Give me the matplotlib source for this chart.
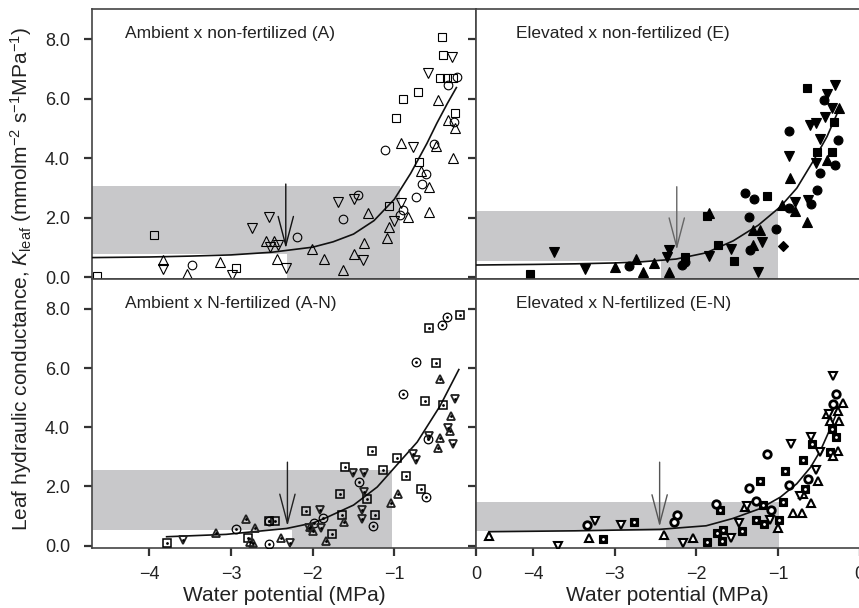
import matplotlib.pyplot as plt

plt.rcParams['font.family'] = ['Liberation Sans', 'DejaVu Sans']
plt.rcParams['mathtext.fontset'] = 'custom'
plt.rcParams['mathtext.rm'] = 'Liberation Sans'
plt.rcParams['mathtext.it'] = 'Liberation Sans:italic'

# water potential (MPa), Kleaf (mmol m-2 s-1 MPa-1) per treatment and leaf
a_squares = [(-0.42, 8.07), (-0.41, 7.46), (-0.44, 6.68), (-0.35, 6.68),
             (-0.28, 6.68), (-0.71, 6.23), (-0.89, 6.00), (-0.98, 5.34),
             (-0.26, 5.52), (-0.70, 3.88), (-1.06, 2.40), (-3.94, 1.42),
             (-2.94, 0.30), (-4.64, 0.05)]
a_circles = [(-0.23, 6.71), (-0.34, 6.45), (-0.27, 5.22), (-0.52, 4.47),
             (-1.11, 4.27), (-0.61, 3.47), (-0.66, 3.13), (-0.73, 2.70),
             (-1.45, 2.76), (-1.63, 1.95), (-0.89, 2.26), (-0.93, 2.09),
             (-2.19, 1.36), (-3.48, 0.41)]
a_up = [(-0.46, 5.95), (-0.34, 5.28), (-0.26, 5.02), (-0.92, 4.50),
        (-0.49, 4.41), (-0.28, 3.99), (-0.67, 3.58), (-0.57, 3.04),
        (-0.57, 2.20), (-0.83, 2.03), (-1.32, 2.15), (-1.07, 1.70),
        (-1.09, 1.31), (-1.37, 1.14), (-1.50, 0.78), (-2.01, 0.94),
        (-1.86, 0.62), (-1.63, 0.24), (-2.44, 0.61), (-2.57, 1.23),
        (-2.48, 1.23), (-3.14, 0.52), (-3.84, 0.58), (-3.54, 0.10)]
a_down = [(-0.29, 7.40), (-0.59, 6.85), (-0.77, 4.38), (-0.92, 2.50),
          (-1.00, 1.90), (-1.38, 0.58), (-1.49, 2.62), (-1.69, 2.54),
          (-2.54, 2.03), (-2.74, 1.64), (-2.52, 1.03), (-2.42, 1.08),
          (-2.33, 0.30), (-2.99, 0.08), (-3.84, 0.27)]

e_squares = [(-0.65, 6.37), (-0.52, 4.22), (-0.34, 4.22), (-0.31, 5.22),
             (-1.14, 2.74), (-1.87, 2.07), (-1.74, 1.08), (-1.54, 0.56),
             (-2.14, 0.69), (-4.04, 0.10)]
e_circles = [(-0.44, 5.95), (-0.86, 4.92), (-0.48, 3.49), (-0.30, 3.77),
             (-0.26, 4.61), (-0.52, 2.93), (-0.59, 2.46), (-0.87, 2.32),
             (-1.40, 2.84), (-1.29, 2.63), (-1.35, 2.01), (-1.02, 1.61),
             (-1.34, 0.92), (-2.18, 0.41), (-2.14, 0.52), (-2.83, 0.39)]
e_up = [(-0.25, 5.70), (-0.85, 3.32), (-0.79, 2.24), (-0.95, 2.43),
        (-0.64, 1.87), (-0.40, 3.94), (-1.85, 2.15), (-1.22, 1.59),
        (-1.30, 1.59), (-1.30, 1.08), (-2.33, 0.19), (-2.52, 0.47),
        (-2.65, 0.19), (-2.74, 0.60), (-3.00, 0.36)]
e_down = [(-0.30, 6.45), (-0.40, 6.17), (-0.42, 5.39), (-0.54, 5.17),
          (-0.61, 5.11), (-0.34, 5.67), (-0.49, 4.66), (-0.54, 3.83),
          (-0.86, 4.07), (-0.79, 2.54), (-0.63, 2.59), (-1.20, 1.19),
          (-1.57, 0.94), (-1.25, 0.19), (-1.84, 0.71), (-2.34, 0.92),
          (-2.36, 0.69), (-3.37, 0.27), (-3.74, 0.84)]
e_diamonds = [(-0.94, 1.05)]

an_squares = [(-0.20, 7.80), (-0.58, 7.35), (-0.49, 6.17), (-0.62, 4.89),
              (-0.41, 4.74), (-1.27, 3.21), (-0.97, 2.95), (-0.86, 2.34),
              (-0.67, 1.90), (-1.61, 2.65), (-1.14, 2.57), (-1.67, 1.76),
              (-1.33, 1.59), (-1.24, 1.03), (-1.64, 1.03), (-1.76, 0.38),
              (-2.08, 1.16), (-2.53, 0.84), (-2.46, 0.84), (-2.79, 0.25),
              (-3.79, 0.10)]
an_circles = [(-0.35, 7.74), (-0.42, 7.44), (-0.73, 6.21), (-0.89, 5.11),
              (-0.59, 3.60), (-0.61, 1.64), (-1.43, 2.15), (-1.26, 0.67),
              (-1.99, 0.77), (-1.87, 0.92), (-2.94, 0.56), (-2.54, 0.05),
              (-2.54, 0.84)]
an_up = [(-0.44, 5.62), (-0.31, 4.39), (-0.32, 3.88), (-0.44, 3.64),
         (-0.46, 3.29), (-0.95, 1.76), (-1.04, 1.44), (-1.62, 0.81),
         (-1.84, 0.17), (-2.03, 0.64), (-2.00, 0.50), (-2.39, 0.25),
         (-2.82, 0.89), (-2.71, 0.60), (-3.18, 0.42), (-2.73, 0.08),
         (-2.77, 0.13)]
an_down = [(-0.26, 4.95), (-0.34, 3.99), (-0.28, 3.44), (-0.57, 3.71),
           (-0.77, 3.10), (-0.73, 2.88), (-1.51, 2.45), (-1.37, 2.45),
           (-1.37, 1.81), (-1.40, 1.20), (-1.40, 0.89), (-1.91, 1.22),
           (-1.90, 0.58), (-2.28, 0.08), (-3.59, 0.19), (-2.04, 0.58)]

en_squares = [(-0.34, 3.94), (-0.29, 3.66), (-0.36, 3.18), (-0.58, 3.44),
              (-0.69, 2.90), (-0.92, 2.52), (-0.67, 1.93), (-0.94, 1.48),
              (-1.22, 2.20), (-1.18, 1.37), (-1.27, 0.86), (-1.17, 0.73),
              (-1.44, 0.50), (-0.99, 0.86), (-1.71, 1.20), (-1.67, 0.53),
              (-1.75, 0.42), (-1.69, 0.16), (-1.87, 0.13), (-2.77, 0.81),
              (-3.14, 0.22)]
en_circles = [(-0.29, 5.13), (-0.33, 4.80), (-1.14, 3.10), (-0.86, 2.06),
              (-0.63, 2.26), (-1.35, 1.95), (-1.27, 1.50), (-1.08, 1.20),
              (-1.76, 1.39), (-2.24, 1.05), (-2.27, 0.81), (-3.34, 0.69)]
en_up = [(-0.20, 4.83), (-0.26, 4.55), (-0.36, 4.22), (-0.25, 4.22),
         (-0.40, 4.46), (-0.26, 3.19), (-0.32, 3.04), (-0.51, 2.20),
         (-0.59, 1.44), (-0.71, 1.09), (-1.00, 0.58), (-1.40, 1.31),
         (-2.04, 0.25), (-2.40, 0.36), (-3.31, 0.25), (-4.54, 0.33),
         (-0.69, 1.76), (-0.81, 1.09)]
en_down = [(-0.32, 5.73), (-0.38, 4.44), (-0.60, 3.66), (-0.84, 3.44),
           (-0.49, 3.15), (-0.54, 2.54), (-0.73, 1.67), (-1.38, 1.33),
           (-1.48, 0.77), (-1.57, 0.27), (-2.16, 0.08), (-3.24, 0.84),
           (-3.70, 0.00), (-2.92, 0.69), (-1.10, 0.86)]

# fitted response curves
a_curve_psi = [-4.70, -4.0, -3.5, -3.0, -2.5, -2.0, -1.75, -1.5, -1.25,
               -1.0, -0.8, -0.6, -0.48, -0.35, -0.24]
a_curve_k = [0.66, 0.68, 0.71, 0.75, 0.84, 1.01, 1.19, 1.45, 1.90,
             2.62, 3.49, 4.50, 5.17, 5.84, 6.37]
e_curve_psi = [-4.70, -4.0, -3.48, -3.0, -2.66, -2.25, -1.88, -1.55,
               -1.24, -0.97, -0.77, -0.56, -0.40, -0.24]
e_curve_k = [0.41, 0.43, 0.45, 0.48, 0.52, 0.61, 0.82, 1.22,
             1.75, 2.37, 2.99, 3.94, 4.72, 5.72]
an_curve_psi = [-3.79, -3.06, -2.32, -1.99, -1.83, -1.50, -1.21, -1.01,
                -0.72, -0.44, -0.21]
an_curve_k = [0.30, 0.38, 0.58, 0.77, 0.95, 1.37, 1.98, 2.60,
              3.50, 4.72, 5.95]
en_curve_psi = [-4.54, -3.48, -2.45, -1.88, -1.55, -1.22, -0.97, -0.77,
                -0.60, -0.48, -0.38, -0.27]
en_curve_k = [0.47, 0.50, 0.55, 0.67, 0.92, 1.25, 1.64, 2.09,
              2.65, 3.21, 3.83, 4.55]

# shaded ranges: psi (left, split, right) and K (low, high)
shade_psi = [(-4.7, -2.32, -0.93), (-4.7, -2.43, -1.00),
             (-4.7, -2.26, -1.03), (-4.7, -2.37, -0.99)]
shade_k = [(0.78, 3.05), (0.53, 2.23), (0.52, 2.56), (0.48, 1.48)]

# arrows: psi, K at tail, K at tip
arrow_psi = [-2.33, -2.24, -2.31, -2.45]
arrow_tail = [3.13, 3.04, 2.82, 2.82]
arrow_tip = [0.97, 0.92, 0.66, 0.64]

titles = ["Ambient x non-fertilized (A)", "Elevated x non-fertilized (E)",
          "Ambient x N-fertilized (A-N)", "Elevated x N-fertilized (E-N)"]
x_ticks = [-4, -3, -2, -1, 0]
x_tick_labels = ["\u22124", "\u22123", "\u22122", "\u22121", "0"]
y_ticks = [0, 2, 4, 6, 8]
y_tick_labels = ["0.0", "2.0", "4.0", "6.0", "8.0"]

GRAY = "#c8c8ca"
INK = "#222222"
Y_MIN, Y_MAX = -0.07, 9.0


def draw_points(ax, points, marker, size, face, edge, width,
                dot=None, dot_size=2.0):
    """Plot one marker series, optionally with a small centre dot."""
    psi = [p[0] for p in points]
    k = [p[1] for p in points]
    ax.plot(psi, k, linestyle="none", marker=marker, ms=size, mfc=face,
            mec=edge, mew=width, zorder=4)
    if dot:
        ax.plot(psi, k, linestyle="none", marker="o", ms=dot_size,
                mfc=dot, mec="none", zorder=5)


def setup_axes(ax, idx):
    ax.set_xlim(-4.7, 0)
    ax.set_ylim(Y_MIN, Y_MAX)
    ax.set_xticks(x_ticks)
    ax.set_yticks(y_ticks)
    if idx >= 2:
        ax.set_xticklabels(x_tick_labels)
        ax.set_xlabel("Water potential (MPa)", fontsize=15, color=INK,
                      labelpad=2)
    else:
        ax.set_xticklabels([])
    if idx % 2 == 0:
        ax.set_yticklabels(y_tick_labels)
    else:
        ax.set_yticklabels([])
    ax.tick_params(direction="out", length=6, width=1.6, color="#333333",
                   labelsize=13, labelcolor=INK)
    ax.tick_params(axis="y", pad=10)
    ax.tick_params(axis="x", pad=7)
    for spine in ax.spines.values():
        spine.set_color("#444444")
        spine.set_linewidth(1.2)
    ax.text(0.085 if idx % 2 == 0 else 0.105, 0.91, titles[idx],
            transform=ax.transAxes, fontsize=12.5, color=INK, va="center")


def draw_panel(ax, idx, series, curve_psi, curve_k, arrow_color):
    left, split, right = shade_psi[idx]
    low, high = shade_k[idx]
    ax.fill_between([left, right], low, high, color=GRAY, lw=0, zorder=1)
    ax.fill_between([split, right], Y_MIN, high, color=GRAY, lw=0, zorder=1)
    ax.plot(curve_psi, curve_k, color="#111111", lw=1.2, zorder=3)
    for points, marker, size, face, edge, width, dot in series:
        draw_points(ax, points, marker, size, face, edge, width, dot)
    ax.annotate("", xy=(arrow_psi[idx], arrow_tip[idx]),
                xytext=(arrow_psi[idx], arrow_tail[idx]),
                arrowprops=dict(arrowstyle="->,head_length=2.1,head_width=0.55",
                                color=arrow_color, lw=1.0, shrinkA=0,
                                shrinkB=0, mutation_scale=10),
                zorder=6)
    setup_axes(ax, idx)


def main():
    fig = plt.figure(figsize=(8.59, 6.08), dpi=100)
    w = 0.4466
    h = 0.4441
    ax_a = fig.add_axes([0.1075, 0.5406, w, h])
    ax_e = fig.add_axes([0.5541, 0.5406, w, h])
    ax_an = fig.add_axes([0.1075, 0.0992, w, 0.4414])
    ax_en = fig.add_axes([0.5541, 0.0992, w, 0.4414])

    open_ = "none"
    draw_panel(ax_a, 0, [
        (a_squares, "s", 5.4, open_, "k", 0.8, None),
        (a_circles, "o", 6.2, open_, "k", 0.8, None),
        (a_up, "^", 6.6, open_, "k", 0.8, None),
        (a_down, "v", 6.6, open_, "k", 0.8, None),
    ], a_curve_psi, a_curve_k, "#111111")

    draw_panel(ax_e, 1, [
        (e_squares, "s", 5.4, "k", "k", 0.8, None),
        (e_circles, "o", 6.4, "k", "k", 0.8, None),
        (e_up, "^", 6.6, "k", "k", 0.8, None),
        (e_down, "v", 6.6, "k", "k", 0.8, None),
        (e_diamonds, "D", 5.0, "k", "k", 0.8, None),
    ], e_curve_psi, e_curve_k, "#666666")

    draw_panel(ax_an, 2, [
        (an_squares, "s", 5.4, open_, "k", 1.1, "k"),
        (an_circles, "o", 6.2, open_, "k", 0.9, "k"),
        (an_up, "^", 6.4, open_, "#222222", 1.3, "k"),
        (an_down, "v", 6.4, open_, "#222222", 1.3, "k"),
    ], an_curve_psi, an_curve_k, "#222222")

    draw_panel(ax_en, 3, [
        (en_squares, "s", 5.6, "k", "k", 0.8, "white"),
        (en_circles, "o", 5.4, "white", "k", 2.0, None),
        (en_up, "^", 6.2, "white", "k", 1.5, None),
        (en_down, "v", 6.2, "white", "k", 1.5, None),
    ], en_curve_psi, en_curve_k, "#555555")

    fig.text(0.024, 0.541,
             r"Leaf hydraulic conductance, $K_{\rm leaf}$ "
             r"(mmolm$^{-2}$ s$^{-1}$MPa$^{-1}$)",
             rotation=90, ha="center", va="center", fontsize=15, color=INK)
    fig.savefig("out.png", dpi=100)


if __name__ == "__main__":
    main()
